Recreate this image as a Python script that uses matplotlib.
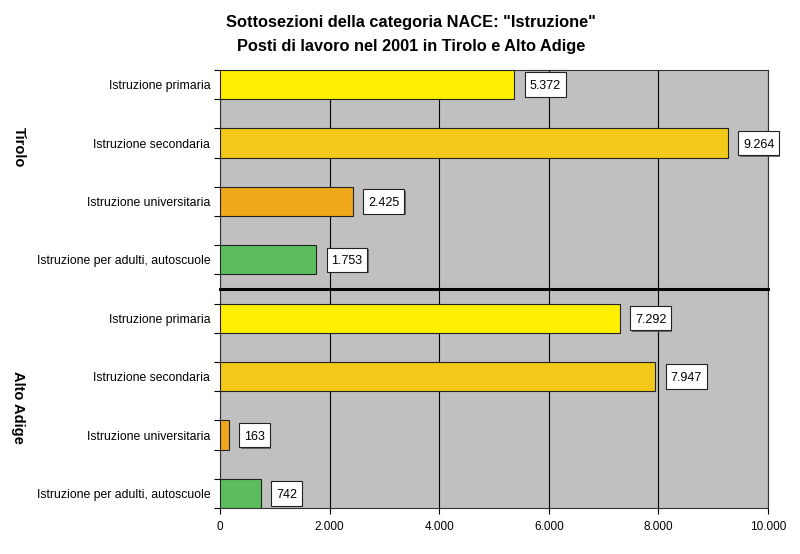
import numpy as np
import matplotlib.pyplot as plt
from matplotlib.path import Path
import matplotlib.patheffects as pe

plt.rcParams['font.family'] = ['Liberation Sans', 'DejaVu Sans']

categories = ["Istruzione primaria", "Istruzione secondaria",
              "Istruzione universitaria", "Istruzione per adulti, autoscuole"]
tirolo = [5372, 9264, 2425, 1753]
alto_adige = [7292, 7947, 163, 742]
colors = ["#FFEF00", "#F2C819", "#F0A81A", "#5CBD5C"]

labels = categories + categories
values = tirolo + alto_adige
bar_colors = colors + colors
y = np.arange(len(values))

fig = plt.figure(figsize=(8, 5.54), dpi=100)
ax = fig.add_axes([0.275, 0.083, 0.685, 0.7906])
ax.set_facecolor("#C0C0C0")

ax.barh(y, values, height=0.5, color=bar_colors, edgecolor="#222222", linewidth=0.8, zorder=3)


def fmt(v):
    return f"{v:,}".replace(",", ".")


# label box: a bit of side padding, tall like the excel boxes,
# centred on the digits rather than on the full text bbox
def tallbox(x0, y0, width, height, mutation_size):
    px = 0.38 * mutation_size
    yc = y0 + height / 2 + 0.12 * mutation_size
    hh = 0.98 * mutation_size
    verts = [(x0 - px, yc - hh), (x0 + width + px, yc - hh),
             (x0 + width + px, yc + hh), (x0 - px, yc + hh), (x0 - px, yc - hh)]
    return Path(verts, closed=True)


for yi, v in zip(y, values):
    t = ax.annotate(fmt(v), (v, yi), xytext=(11, -1.1), textcoords="offset points",
                    ha="left", va="center", fontsize=9, zorder=5,
                    bbox=dict(boxstyle=tallbox, fc="white", ec="#222222", lw=0.8))
    t.get_bbox_patch().set_path_effects([
        pe.SimplePatchShadow(offset=(1, -1), shadow_rgbFace="#555555", alpha=0.8),
        pe.Normal()])

ax.set_xlim(0, 10000)
ax.set_ylim(7.25, -0.25)
ax.set_xticks(np.arange(0, 10001, 2000))
ax.set_xticklabels([fmt(t) for t in range(0, 10001, 2000)], fontsize=8.5)
ax.set_yticks(np.arange(-0.25, 7.26, 0.5))
ax.set_yticklabels([])
ax.set_yticks(y, minor=True)
ax.set_yticklabels(labels, minor=True, fontsize=8.8)
ax.tick_params(axis="y", which="minor", length=0, pad=7)
ax.tick_params(axis="y", which="major", length=4, direction="out")
ax.tick_params(axis="x", length=4, direction="out", pad=5)
ax.grid(axis="x", color="black", linewidth=0.8, zorder=1)
for s in ax.spines.values():
    s.set_color("#333333")
    s.set_linewidth(0.8)

ax.axhline(3.5, color="black", linewidth=2.2, zorder=4, clip_on=False)

fig.text(0.023, (554 - 147) / 554, "Tirolo", rotation=270, ha="center", va="center",
         fontsize=10.5, fontweight="bold")
fig.text(0.023, (554 - 407) / 554, "Alto Adige", rotation=270, ha="center", va="center",
         fontsize=10.5, fontweight="bold")

fig.text(0.514, (554 - 22) / 554, 'Sottosezioni della categoria NACE: "Istruzione"',
         ha="center", va="center", fontsize=11.8, fontweight="bold")
fig.text(0.514, (554 - 46) / 554, 'Posti di lavoro nel 2001 in Tirolo e Alto Adige',
         ha="center", va="center", fontsize=11.8, fontweight="bold")

fig.savefig("out.png", dpi=100)
